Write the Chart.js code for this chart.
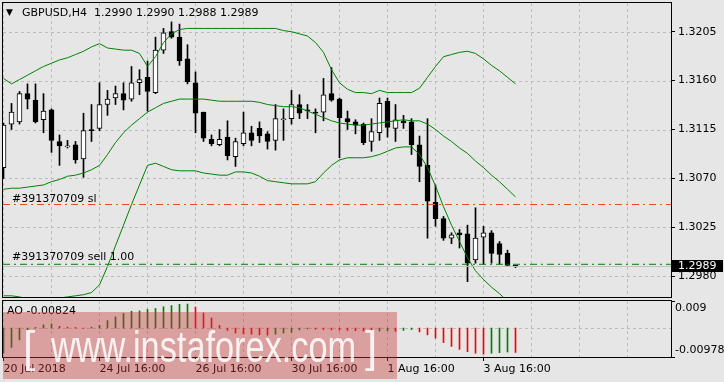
<!DOCTYPE html>
<html><head><meta charset="utf-8">
<script src="https://cdn.jsdelivr.net/npm/chart.js@4.4.1/dist/chart.umd.min.js"></script>
<style>
html,body{margin:0;padding:0;background:#e6e6e6;width:724px;height:382px;overflow:hidden;position:relative}
canvas{position:absolute;left:0;top:0}
#wm{position:absolute;left:3px;top:312px;width:394px;height:67px;background:rgba(200,55,55,0.40);overflow:hidden;font-family:"Liberation Sans",sans-serif;color:rgba(255,255,255,0.85)}
#wm span{position:absolute;white-space:nowrap;font-size:44px;line-height:44px;transform-origin:0 0}
</style></head><body>
<canvas id="main" width="724" height="382"></canvas>
<canvas id="ao" width="724" height="382"></canvas>
<div id="wm"><span style="left:20px;top:13px">[</span><span id="wmt" style="left:48px;top:13px;transform:scaleX(0.78)">www.instaforex.com</span><span style="left:362px;top:13px">]</span></div>
<script>
// ---- data ----
const opens = [1.3080,1.3120,1.3122,1.3148,1.3142,1.3124,1.3133,1.3104,1.3099,1.3101,1.3088,1.3115,1.3116,1.3138,1.3144,1.3148,
1.3143,1.3158,1.3163,1.3149,1.3188,1.3205,1.3200,1.3180,1.3158,1.3131,1.3106,1.3101,1.3108,1.3090,1.3102,1.3112,
1.3116,1.3111,1.3105,1.3124,1.3125,1.3138,1.3133,1.3131,1.3131,1.3148,1.3143,1.3125,1.3122,1.3120,1.3104,1.3112,
1.3141,1.3116,1.3123,1.3122,1.3101,1.3082,1.3048,1.3033,1.3015,1.3020,1.3019,1.2995,1.3016,1.3020,1.3010,1.3001,1.2990];
const highs = [1.3121,1.3139,1.3150,1.3157,1.3157,1.3148,1.3134,1.3110,1.3105,1.3104,1.3130,1.3138,1.3158,1.3151,1.3155,1.3158,
1.3173,1.3170,1.3178,1.3200,1.3208,1.3214,1.3212,1.3193,1.3168,1.3131,1.3110,1.3115,1.3123,1.3107,1.3131,1.3118,
1.3122,1.3113,1.3138,1.3134,1.3151,1.3147,1.3138,1.3134,1.3162,1.3172,1.3144,1.3132,1.3124,1.3121,1.3125,1.3144,
1.3144,1.3138,1.3128,1.3125,1.3109,1.3125,1.3064,1.3035,1.3020,1.3023,1.3027,1.3043,1.3026,1.3022,1.3012,1.3004,1.2990];
const lows = [1.3070,1.3115,1.3120,1.3134,1.3121,1.3112,1.3094,1.3082,1.3098,1.3084,1.3071,1.3104,1.3114,1.3128,1.3138,1.3133,
1.3141,1.3147,1.3132,1.3148,1.3185,1.3199,1.3174,1.3157,1.3112,1.3104,1.3100,1.3100,1.3087,1.3081,1.3100,1.3100,
1.3103,1.3097,1.3096,1.3105,1.3120,1.3125,1.3125,1.3112,1.3123,1.3141,1.3089,1.3115,1.3111,1.3101,1.3095,1.3105,
1.3108,1.3104,1.3116,1.3092,1.3067,1.3015,1.3026,1.3013,1.3010,1.3006,1.2975,1.2992,1.2991,1.2992,1.2991,1.2989,1.2988];
const closes = [1.3119,1.3131,1.3148,1.3143,1.3122,1.3132,1.3105,1.3100,1.3100,1.3087,1.3114,1.3114,1.3138,1.3143,1.3148,1.3142,
1.3158,1.3161,1.3150,1.3188,1.3204,1.3200,1.3178,1.3159,1.3130,1.3107,1.3102,1.3106,1.3091,1.3104,1.3112,1.3105,
1.3109,1.3104,1.3125,1.3124,1.3138,1.3130,1.3132,1.3130,1.3147,1.3142,1.3126,1.3122,1.3119,1.3103,1.3113,1.3139,
1.3117,1.3124,1.3121,1.3101,1.3081,1.3049,1.3033,1.3015,1.3018,1.3018,1.2992,1.3015,1.3020,1.3001,1.3000,1.2990,1.2989];
const bbUpper = [1.3162,1.3157,1.3161,1.3165,1.3169,1.3173,1.3176,1.3179,1.3181,1.3184,1.3187,1.3191,1.3194,1.3190,1.3189,1.3188,
1.3188,1.3185,1.3173,1.3182,1.3195,1.3203,1.3207,1.3208,1.3208,1.3208,1.3208,1.3208,1.3208,1.3208,1.3208,1.3208,
1.3208,1.3208,1.3208,1.3206,1.3205,1.3203,1.3201,1.3195,1.3186,1.3170,1.3158,1.3152,1.3149,1.3149,1.3148,1.3151,
1.3149,1.3149,1.3149,1.3149,1.3153,1.3163,1.3173,1.3182,1.3184,1.3186,1.3187,1.3185,1.3180,1.3174,1.3169,1.3163,1.3157];
const bbMiddle = [1.3060,1.3061,1.3061,1.3062,1.3063,1.3064,1.3067,1.3069,1.3072,1.3073,1.3075,1.3078,1.3082,1.3092,1.3103,1.3112,
1.3119,1.3125,1.3131,1.3135,1.3139,1.3141,1.3143,1.3143,1.3143,1.3143,1.3142,1.3141,1.3141,1.3141,1.3141,1.3141,
1.3140,1.3138,1.3137,1.3136,1.3136,1.3135,1.3132,1.3129,1.3126,1.3123,1.3121,1.3120,1.3119,1.3119,1.3120,1.3121,
1.3122,1.3123,1.3124,1.3123,1.3123,1.3120,1.3115,1.3109,1.3104,1.3098,1.3093,1.3086,1.3080,1.3073,1.3067,1.3060,1.3053];
const bbLower = [1.2962,1.2962,1.2961,1.2959,1.2958,1.2958,1.2959,1.2960,1.2961,1.2962,1.2963,1.2965,1.2972,1.2989,1.3008,1.3027,
1.3046,1.3064,1.3082,1.3084,1.3081,1.3078,1.3077,1.3077,1.3077,1.3075,1.3074,1.3073,1.3073,1.3076,1.3076,1.3075,
1.3072,1.3068,1.3067,1.3066,1.3065,1.3065,1.3065,1.3067,1.3075,1.3082,1.3087,1.3089,1.3089,1.3089,1.3090,1.3092,
1.3095,1.3098,1.3099,1.3099,1.3092,1.3080,1.3063,1.3044,1.3027,1.3012,1.2997,1.2985,1.2977,1.2970,1.2964,1.2957,1.2951];
const aoValues = [-0.0085,-0.0065,-0.0040,-0.0011,0.0002,0.0011,0.0014,0.0006,0.0003,0.0002,-0.0001,0.0003,0.0009,0.0025,0.0038,0.0049,
0.0057,0.0058,0.0063,0.0066,0.0072,0.0076,0.0080,0.0081,0.0071,0.0051,0.0034,0.0009,-0.0008,-0.0017,-0.0020,-0.0021,
-0.0023,-0.0024,-0.0021,-0.0017,-0.0014,-0.0006,-0.0003,-0.0004,-0.0005,-0.0006,-0.0007,-0.0008,-0.0009,-0.0010,-0.0011,-0.0010,
-0.0009,-0.0011,-0.0008,-0.0005,-0.0013,-0.0023,-0.0034,-0.0049,-0.0062,-0.0072,-0.0080,-0.0085,-0.0088,-0.0085,-0.0083,-0.0081,-0.00824];
const priceTicks = [1.2980, 1.3025, 1.3070, 1.3115, 1.3160, 1.3205];
const aoTickValues = [-0.00978, 0, 0.009];
const aoTickLabels = [['-0.00978',''], '0.00', ['','0.009']];
const aoGridValues = [0];
const gridBars = [0,6,12,18,24,30,36,42,48,54,60,66,72,78];
const xLabelBars = [0,12,24,36,48,60];
const xLabels = ['20 Jul 2018','24 Jul 16:00','26 Jul 16:00','30 Jul 16:00','1 Aug 16:00','3 Aug 16:00'];
const slPrice = 1.3046, sellPrice = 1.2991, bidPrice = 1.2989;
const titleText = ['GBPUSD,H4', '1.2990 1.2990 1.2988 1.2989'];
const slLabel = '#391370709 sl', sellLabel = '#391370709 sell 1.00';
const aoTitle = 'AO -0.00824';

// ---- layout constants ----
const xMin = -0.0625, xMax = 83.4375;
const yMin = 1.29609, yMax = 1.32314;
const aoMin = -0.00978, aoMax = 0.00914;
const FONT = {family: 'DejaVu Sans', size: 11};
const GRID = '#bcbcbc';
const GRID_DASH = [3, 3];
const idx = opens.map((_, i) => i);

Chart.defaults.font.family = 'DejaVu Sans';
Chart.defaults.font.size = 11;
Chart.defaults.color = '#000';

function noPad(s){ s.paddingLeft = 0; s.paddingRight = 0; s.paddingTop = 0; s.paddingBottom = 0; }

// dashed grid placed through the chart's own scales (crisp 1px lines)
function gridPlugin(yVals){
  return {
    id: 'dashGrid',
    beforeDatasetsDraw(chart){
      const c = chart.ctx, a = chart.chartArea, xs = chart.scales.x, ys = chart.scales.y;
      c.save(); c.strokeStyle = GRID; c.lineWidth = 1; c.setLineDash(GRID_DASH);
      c.beginPath();
      gridBars.forEach(v => {
        const px = Math.floor(xs.getPixelForValue(v)) + 0.5;
        if (px <= a.left || px >= a.right) return;
        c.moveTo(px, a.top); c.lineTo(px, a.bottom);
      });
      yVals.forEach(v => {
        const py = Math.round(ys.getPixelForValue(v)) + 0.5;
        c.moveTo(a.left, py); c.lineTo(a.right, py);
      });
      c.stroke(); c.restore();
    }
  };
}
const frame = {
  id: 'frame',
  afterDraw(chart){
    const a = chart.chartArea, c = chart.ctx;
    c.save(); c.strokeStyle = '#000'; c.lineWidth = 1;
    c.strokeRect(a.left - 0.5, a.top - 0.5, a.right - a.left + 1, a.bottom - a.top + 1);
    c.restore();
  }
};
const mainText = {
  id: 'mainText',
  afterDraw(chart){
    const c = chart.ctx, y = chart.scales.y, a = chart.chartArea;
    c.save();
    c.font = '11px "DejaVu Sans"'; c.textBaseline = 'middle'; c.fillStyle = '#000';
    c.fillText(titleText[0], 22, 13);
    c.fillText(titleText[1], 94, 13);
    c.font = '9px "DejaVu Sans"';
    c.fillText('\u25BC', 6, 12.5);
    c.font = '11px "DejaVu Sans"'; c.textBaseline = 'alphabetic';
    c.fillText(slLabel, a.left + 9, y.getPixelForValue(slPrice) - 3);
    c.fillText(sellLabel, a.left + 9, y.getPixelForValue(sellPrice) - 4);
    const by = Math.round(y.getPixelForValue(bidPrice));
    c.fillStyle = '#000'; c.fillRect(a.right + 1, by - 6, 51, 12);
    c.fillStyle = '#fff'; c.textBaseline = 'middle';
    c.fillText(bidPrice.toFixed(4), a.right + 7, by);
    c.restore();
  }
};

const hline = (price, color, dash) => ({
  type: 'line', data: [{x: xMin, y: price}, {x: xMax, y: price}],
  borderColor: color, borderWidth: 1, borderDash: dash, pointRadius: 0, order: 0
});

new Chart(document.getElementById('main'), {
  type: 'bar',
  data: { datasets: [
    { type: 'bar', data: idx.map(i => ({x: i, y: [lows[i], highs[i]]})), backgroundColor: '#000',
      barThickness: 1, grouped: false, order: 4 },
    { type: 'bar', data: idx.map(i => ({x: i, y: [Math.min(opens[i], closes[i]), Math.max(opens[i], closes[i])]})),
      backgroundColor: idx.map(i => closes[i] >= opens[i] ? '#fff' : '#000'), borderColor: '#000', borderWidth: 1,
      borderSkipped: false, barThickness: 5, grouped: false, minBarLength: 1, order: 3 },
    { type: 'line', data: idx.map(i => ({x: i, y: bbUpper[i]})), borderColor: '#008000', borderWidth: 1, pointRadius: 0, order: 1 },
    { type: 'line', data: idx.map(i => ({x: i, y: bbMiddle[i]})), borderColor: '#008000', borderWidth: 1, pointRadius: 0, order: 1 },
    { type: 'line', data: idx.map(i => ({x: i, y: bbLower[i]})), borderColor: '#008000', borderWidth: 1, pointRadius: 0, order: 1 },
    hline(bidPrice, '#c0c0c0', []),
    hline(slPrice, '#f04a1a', [7,4,2,4]),
    hline(sellPrice, '#008000', [7,4,2,4])
  ]},
  options: {
    responsive: false, animation: false,
    layout: {padding: {left: 3, top: 3, right: 0, bottom: 382 - 297}},
    plugins: {legend: {display: false}, tooltip: {enabled: false}},
    scales: {
      x: { type: 'linear', offset: false, min: xMin, max: xMax,
        afterBuildTicks: s => { s.ticks = gridBars.map(v => ({value: v})); },
        afterFit: s => { s.height = 0; noPad(s); },
        ticks: {display: false}, grid: {display: false}, border: {display: false} },
      y: { type: 'linear', position: 'right', min: yMin, max: yMax,
        afterBuildTicks: s => { s.ticks = priceTicks.map(v => ({value: v})); },
        afterFit: s => { s.width = 724 - 671; noPad(s); },
        ticks: {callback: v => v.toFixed(4), padding: 3, font: FONT, color: '#000'},
        grid: {drawOnChartArea: false, tickLength: 4, tickColor: '#000', color: '#000'}, border: {display: false} }
    }
  },
  plugins: [gridPlugin(priceTicks), frame, mainText]
});

const aoText = {
  id: 'aoText',
  afterDraw(chart){
    const c = chart.ctx, a = chart.chartArea;
    c.save(); c.font = '11px "DejaVu Sans"'; c.fillStyle = '#000'; c.textBaseline = 'middle';
    c.fillText(aoTitle, a.left + 4, a.top + 10);
    c.restore();
  }
};

new Chart(document.getElementById('ao'), {
  type: 'bar',
  data: { datasets: [
    { type: 'bar', data: idx.map(i => ({x: i, y: aoValues[i]})),
      backgroundColor: idx.map(i => (i === 0 || aoValues[i] > aoValues[i-1]) ? '#008000' : '#ff0000'),
      barThickness: 1, grouped: false }
  ]},
  options: {
    responsive: false, animation: false,
    layout: {padding: {left: 3, top: 301, right: 0, bottom: 0}},
    plugins: {legend: {display: false}, tooltip: {enabled: false}},
    scales: {
      x: { type: 'linear', offset: false, min: xMin, max: xMax,
        afterBuildTicks: s => { s.ticks = xLabelBars.map(v => ({value: v})); },
        afterFit: s => { s.height = 382 - 357; noPad(s); },
        ticks: {autoSkip: false, maxRotation: 0, align: 'start', padding: 2, font: FONT, color: '#000',
          callback: v => { const k = xLabelBars.indexOf(v); return k >= 0 ? xLabels[k] : ''; }},
        grid: {drawOnChartArea: false, tickLength: 4, offset: false, tickColor: '#000', color: '#000'},
        border: {display: false} },
      y: { type: 'linear', position: 'right', min: aoMin, max: aoMax,
        afterBuildTicks: s => { s.ticks = aoTickValues.map(v => ({value: v})); },
        afterFit: s => { s.width = 724 - 671; noPad(s); },
        ticks: {padding: 0, font: FONT, color: '#000', callback: (v, i) => aoTickLabels[i]},
        grid: {drawOnChartArea: false, tickLength: 4, tickColor: '#000', color: '#000'},
        border: {display: false} }
    }
  },
  plugins: [gridPlugin(aoGridValues), frame, aoText]
});
</script>
</body></html>
